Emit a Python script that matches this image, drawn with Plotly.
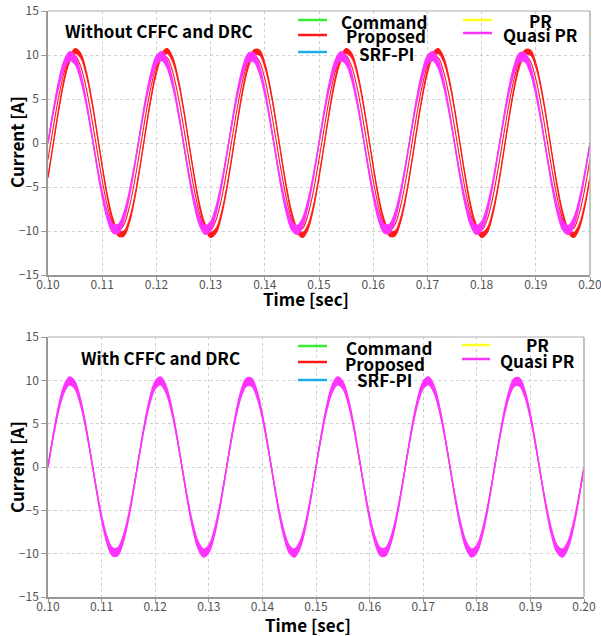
import plotly.graph_objects as go

# ---------------- data ----------------
TIME = [0.100, 0.101, 0.102, 0.103, 0.104, 0.105, 0.106, 0.107, 0.108, 0.109,
        0.110, 0.111, 0.112, 0.113, 0.114, 0.115, 0.116, 0.117, 0.118, 0.119,
        0.120, 0.121, 0.122, 0.123, 0.124, 0.125, 0.126, 0.127, 0.128, 0.129,
        0.130, 0.131, 0.132, 0.133, 0.134, 0.135, 0.136, 0.137, 0.138, 0.139,
        0.140, 0.141, 0.142, 0.143, 0.144, 0.145, 0.146, 0.147, 0.148, 0.149,
        0.150, 0.151, 0.152, 0.153, 0.154, 0.155, 0.156, 0.157, 0.158, 0.159,
        0.160, 0.161, 0.162, 0.163, 0.164, 0.165, 0.166, 0.167, 0.168, 0.169,
        0.170, 0.171, 0.172, 0.173, 0.174, 0.175, 0.176, 0.177, 0.178, 0.179,
        0.180, 0.181, 0.182, 0.183, 0.184, 0.185, 0.186, 0.187, 0.188, 0.189,
        0.190, 0.191, 0.192, 0.193, 0.194, 0.195, 0.196, 0.197, 0.198, 0.199,
        0.200]

# Command / SRF-PI / PR (overlapping, under the Quasi PR band)
COMMAND = [0.00, 3.68, 6.85, 9.05, 9.98, 9.51, 7.71, 4.82, 1.25, -2.49, -5.88, -8.44, -9.82, -9.82, -8.44, -5.88, -2.49, 1.25, 4.82, 7.71, 9.51, 9.98, 9.05, 6.85, 3.68, 0.00,
           -3.68, -6.85, -9.05, -9.98, -9.51, -7.71, -4.82, -1.25, 2.49, 5.88, 8.44, 9.82, 9.82, 8.44, 5.88, 2.49, -1.25, -4.82, -7.71, -9.51, -9.98, -9.05, -6.85, -3.68, 0.00,
           3.68, 6.85, 9.05, 9.98, 9.51, 7.71, 4.82, 1.25, -2.49, -5.88, -8.44, -9.82, -9.82, -8.44, -5.88, -2.49, 1.25, 4.82, 7.71, 9.51, 9.98, 9.05, 6.85, 3.68, 0.00,
           -3.68, -6.85, -9.05, -9.98, -9.51, -7.71, -4.82, -1.25, 2.49, 5.88, 8.44, 9.82, 9.82, 8.44, 5.88, 2.49, -1.25, -4.82, -7.71, -9.51, -9.98, -9.05, -6.85, -3.68, 0.00]
SRF_PI = COMMAND
PR = COMMAND

# Quasi PR band (outer / inner envelope) - top panel
QPR_OUT = [0.00, 3.83, 7.12, 9.41, 10.38, 9.89, 8.01, 5.01, 1.30, -2.59, -6.11, -8.78, -10.22, -10.22, -8.78, -6.11, -2.59, 1.30, 5.01, 8.01, 9.89, 10.38, 9.41, 7.12, 3.83, 0.00,
           -3.83, -7.12, -9.41, -10.38, -9.89, -8.01, -5.01, -1.30, 2.59, 6.11, 8.78, 10.22, 10.22, 8.78, 6.11, 2.59, -1.30, -5.01, -8.01, -9.89, -10.38, -9.41, -7.12, -3.83, 0.00,
           3.83, 7.12, 9.41, 10.38, 9.89, 8.01, 5.01, 1.30, -2.59, -6.11, -8.78, -10.22, -10.22, -8.78, -6.11, -2.59, 1.30, 5.01, 8.01, 9.89, 10.38, 9.41, 7.12, 3.83, 0.00,
           -3.83, -7.12, -9.41, -10.38, -9.89, -8.01, -5.01, -1.30, 2.59, 6.11, 8.78, 10.22, 10.22, 8.78, 6.11, 2.59, -1.30, -5.01, -8.01, -9.89, -10.38, -9.41, -7.12, -3.83, 0.00]
QPR_IN = [0.00, 3.46, 6.43, 8.51, 9.38, 8.94, 7.24, 4.53, 1.18, -2.34, -5.53, -7.94, -9.23, -9.23, -7.94, -5.53, -2.34, 1.18, 4.53, 7.24, 8.94, 9.38, 8.51, 6.43, 3.46, 0.00,
          -3.46, -6.43, -8.51, -9.38, -8.94, -7.24, -4.53, -1.18, 2.34, 5.53, 7.94, 9.23, 9.23, 7.94, 5.53, 2.34, -1.18, -4.53, -7.24, -8.94, -9.38, -8.51, -6.43, -3.46, 0.00,
          3.46, 6.43, 8.51, 9.38, 8.94, 7.24, 4.53, 1.18, -2.34, -5.53, -7.94, -9.23, -9.23, -7.94, -5.53, -2.34, 1.18, 4.53, 7.24, 8.94, 9.38, 8.51, 6.43, 3.46, 0.00,
          -3.46, -6.43, -8.51, -9.38, -8.94, -7.24, -4.53, -1.18, 2.34, 5.53, 7.94, 9.23, 9.23, 7.94, 5.53, 2.34, -1.18, -4.53, -7.24, -8.94, -9.38, -8.51, -6.43, -3.46, 0.00]

# Proposed (lagging) - top panel: outer strand, cap edge, thin inner strand
PROP_OUT = [-3.96,
            0.00, 3.96, 7.36, 9.73, 10.73, 10.22, 8.28, 5.18, 1.35, -2.67, -6.32, -9.08, -10.56, -10.56, -9.08, -6.32, -2.67, 1.35, 5.18, 8.28, 10.22, 10.73, 9.73, 7.36, 3.96, 0.00,
            -3.96, -7.36, -9.73, -10.73, -10.22, -8.28, -5.18, -1.35, 2.67, 6.32, 9.08, 10.56, 10.56, 9.08, 6.32, 2.67, -1.35, -5.18, -8.28, -10.22, -10.73, -9.73, -7.36, -3.96, 0.00,
            3.96, 7.36, 9.73, 10.73, 10.22, 8.28, 5.18, 1.35, -2.67, -6.32, -9.08, -10.56, -10.56, -9.08, -6.32, -2.67, 1.35, 5.18, 8.28, 10.22, 10.73, 9.73, 7.36, 3.96, 0.00,
            -3.96, -7.36, -9.73, -10.73, -10.22, -8.28, -5.18, -1.35, 2.67, 6.32, 9.08, 10.56, 10.56, 9.08, 6.32, 2.67, -1.35, -5.18, -8.28, -10.22, -10.73, -9.73, -7.36, -3.96]
PROP_CAP = [-3.74,
            0.00, 3.74, 6.95, 9.18, 10.13, 9.65, 7.82, 4.89, 1.27, -2.52, -5.97, -8.57, -9.97, -9.97, -8.57, -5.97, -2.52, 1.27, 4.89, 7.82, 9.65, 10.13, 9.18, 6.95, 3.74, 0.00,
            -3.74, -6.95, -9.18, -10.13, -9.65, -7.82, -4.89, -1.27, 2.52, 5.97, 8.57, 9.97, 9.97, 8.57, 5.97, 2.52, -1.27, -4.89, -7.82, -9.65, -10.13, -9.18, -6.95, -3.74, 0.00,
            3.74, 6.95, 9.18, 10.13, 9.65, 7.82, 4.89, 1.27, -2.52, -5.97, -8.57, -9.97, -9.97, -8.57, -5.97, -2.52, 1.27, 4.89, 7.82, 9.65, 10.13, 9.18, 6.95, 3.74, 0.00,
            -3.74, -6.95, -9.18, -10.13, -9.65, -7.82, -4.89, -1.27, 2.52, 5.97, 8.57, 9.97, 9.97, 8.57, 5.97, 2.52, -1.27, -4.89, -7.82, -9.65, -10.13, -9.18, -6.95, -3.74]
PROP_THIN = [-1.87, 1.87, 5.36, 8.09, 9.69, 9.92, 8.76, 6.37, 3.09, -0.63, -4.26, -7.29, -9.30, -10.00, -9.30, -7.29, -4.26, -0.63, 3.09, 6.37, 8.76, 9.92, 9.69, 8.09, 5.36, 1.87,
             -1.87, -5.36, -8.09, -9.69, -9.92, -8.76, -6.37, -3.09, 0.63, 4.26, 7.29, 9.30, 10.00, 9.30, 7.29, 4.26, 0.63, -3.09, -6.37, -8.76, -9.92, -9.69, -8.09, -5.36, -1.87,
             1.87, 5.36, 8.09, 9.69, 9.92, 8.76, 6.37, 3.09, -0.63, -4.26, -7.29, -9.30, -10.00, -9.30, -7.29, -4.26, -0.63, 3.09, 6.37, 8.76, 9.92, 9.69, 8.09, 5.36, 1.87,
             -1.87, -5.36, -8.09, -9.69, -9.92, -8.76, -6.37, -3.09, 0.63, 4.26, 7.29, 9.30, 10.00, 9.30, 7.29, 4.26, 0.63, -3.09, -6.37, -8.76, -9.92, -9.69, -8.09, -5.36, -1.87]

# bottom panel (with CFFC and DRC): all controllers overlap
PROP2 = COMMAND
QPR2_OUT = QPR_OUT
QPR2_IN = [0.00, 3.50, 6.50, 8.60, 9.48, 9.04, 7.32, 4.58, 1.19, -2.36, -5.58, -8.02, -9.33, -9.33, -8.02, -5.58, -2.36, 1.19, 4.58, 7.32, 9.04, 9.48, 8.60, 6.50, 3.50, 0.00,
           -3.50, -6.50, -8.60, -9.48, -9.04, -7.32, -4.58, -1.19, 2.36, 5.58, 8.02, 9.33, 9.33, 8.02, 5.58, 2.36, -1.19, -4.58, -7.32, -9.04, -9.48, -8.60, -6.50, -3.50, 0.00,
           3.50, 6.50, 8.60, 9.48, 9.04, 7.32, 4.58, 1.19, -2.36, -5.58, -8.02, -9.33, -9.33, -8.02, -5.58, -2.36, 1.19, 4.58, 7.32, 9.04, 9.48, 8.60, 6.50, 3.50, 0.00,
           -3.50, -6.50, -8.60, -9.48, -9.04, -7.32, -4.58, -1.19, 2.36, 5.58, 8.02, 9.33, 9.33, 8.02, 5.58, 2.36, -1.19, -4.58, -7.32, -9.04, -9.48, -8.60, -6.50, -3.50, 0.00]

X_TICKS = [0.10, 0.11, 0.12, 0.13, 0.14, 0.15, 0.16, 0.17, 0.18, 0.19, 0.20]
X_TICK_TEXT = ["0.10", "0.11", "0.12", "0.13", "0.14", "0.15", "0.16", "0.17", "0.18", "0.19", "0.20"]
Y_TICKS = [-15, -10, -5, 0, 5, 10, 15]
Y_TICK_TEXT = ["\u221215", "\u221210", "\u22125", "0", "5", "10", "15"]

LEGEND_NAMES = ["Command", "Proposed", "SRF-PI", "PR", "Quasi PR"]
TITLES = ["Without CFFC and DRC", "With CFFC and DRC"]
X_TITLE = "Time [sec]"
Y_TITLE = "Current [A]"

# ---------------- styles ----------------
C_CMD = "#33ee33"
C_PROP = "#ff1a1a"
C_SRF = "#19aee6"
C_PR = "#ffff22"
C_QPR = "#ff33ff"
FONT = "Noto Sans CJK KR"

W, H = 601, 636
ML, MR, MT, MB = 48, 11, 11, 39
PW = W - ML - MR
PH = H - MT - MB


def px(x):
    return (x - ML) / PW


def py(y):
    return (H - MB - y) / PH


fig = go.Figure()


def line(x, y, color, width, xa, ya, name, fill=None):
    fig.add_trace(go.Scatter(
        x=x, y=y, mode="lines", name=name, xaxis=xa, yaxis=ya,
        line=dict(color=color, width=width, shape="spline", smoothing=1.0),
        fill=fill, fillcolor=color if fill else None,
        showlegend=False, hoverinfo="skip"))


# top panel
line(TIME, COMMAND, C_CMD, 1, "x", "y", "Command")
line(TIME, SRF_PI, C_SRF, 1, "x", "y", "SRF-PI")
line(TIME, PR, C_PR, 1, "x", "y", "PR")
line(TIME, PROP_THIN, C_PROP, 1.1, "x", "y", "Proposed")
line(TIME, PROP_CAP, C_PROP, 0.8, "x", "y", "Proposed")
line(TIME, PROP_OUT, C_PROP, 1.3, "x", "y", "Proposed", fill="tonexty")
line(TIME, QPR_IN, C_QPR, 1.4, "x", "y", "Quasi PR")
line(TIME, QPR_OUT, C_QPR, 1.4, "x", "y", "Quasi PR", fill="tonexty")

# bottom panel
line(TIME, COMMAND, C_CMD, 1, "x2", "y2", "Command")
line(TIME, PROP2, C_PROP, 1, "x2", "y2", "Proposed")
line(TIME, SRF_PI, C_SRF, 1, "x2", "y2", "SRF-PI")
line(TIME, PR, C_PR, 1, "x2", "y2", "PR")
line(TIME, QPR2_IN, C_QPR, 1.4, "x2", "y2", "Quasi PR")
line(TIME, QPR2_OUT, C_QPR, 1.4, "x2", "y2", "Quasi PR", fill="tonexty")

top_dom = [py(275), 1.0]
bot_dom = [0.0, py(337)]

xcommon = dict(range=[0.1, 0.2], tickvals=X_TICKS, ticktext=X_TICK_TEXT, automargin=False,
               ticks="outside", ticklen=3, tickcolor="#999", tickwidth=1,
               ticklabeloverflow="allow", ticklabelstandoff=-5,
               showline=True, linecolor="#999", linewidth=1.5,
               showgrid=True, gridcolor="#cfcfcf", griddash="dot", gridwidth=1,
               zeroline=False, tickfont=dict(family=FONT, size=12, color="#555"))
ycommon = dict(range=[-15, 15], tickvals=Y_TICKS, ticktext=Y_TICK_TEXT, automargin=False,
               ticks="outside", ticklen=5, tickcolor="#999", tickwidth=1,
               ticklabeloverflow="allow",
               showline=True, linecolor="#999", linewidth=1.5,
               showgrid=True, gridcolor="#cfcfcf", griddash="dot", gridwidth=1,
               zeroline=False, tickfont=dict(family=FONT, size=12, color="#555"))

fig.update_layout(
    width=W, height=H, autosize=False,
    margin=dict(l=ML, r=MR, t=MT, b=MB, autoexpand=False),
    paper_bgcolor="white", plot_bgcolor="white",
    showlegend=False,
    xaxis=dict(domain=[0, 1], anchor="y", **xcommon),
    yaxis=dict(domain=top_dom, anchor="x", **ycommon),
    xaxis2=dict(domain=[0, px(584)], anchor="y2", **xcommon),
    yaxis2=dict(domain=bot_dom, anchor="x2", **ycommon),
)

shapes = []
annotations = []

# frame top/right edges
for xr, yr in (("x domain", "y domain"), ("x2 domain", "y2 domain")):
    shapes.append(dict(type="line", xref=xr, yref=yr, x0=0, x1=1, y0=1, y1=1,
                       line=dict(color="#c8c8c8", width=1.5), layer="above"))
    shapes.append(dict(type="line", xref=xr, yref=yr, x0=1, x1=1, y0=0, y1=1,
                       line=dict(color="#b0b0b0", width=1.5), layer="above"))


def text(x, y, s, size=17, color="black", bold=True, textangle=0):
    annotations.append(dict(xref="paper", yref="paper", x=px(x), y=py(y),
                            text=("<b>%s</b>" % s) if bold else s, showarrow=False,
                            xanchor="center", yanchor="middle", textangle=textangle,
                            font=dict(family=FONT, size=size, color=color)))


def seg(x0, x1, y, color):
    shapes.append(dict(type="line", xref="paper", yref="paper",
                       x0=px(x0), x1=px(x1), y0=py(y), y1=py(y),
                       line=dict(color=color, width=2.5), layer="above"))


LEG_COLORS = [C_CMD, C_PROP, C_SRF, C_PR, C_QPR]

top_leg = [(298, 327, 20, 384, 21), (298, 327, 35, 386, 36), (298, 327, 52, 386, 54),
           (463, 492, 20, 540, 20), (463, 492, 33, 540, 34)]
bot_leg = [(298, 327, 346, 389, 347), (298, 327, 362, 385, 363), (298, 327, 380, 384, 380),
           (462, 490, 345, 537, 344), (462, 490, 359, 537, 360)]
for legs in (top_leg, bot_leg):
    for (x0, x1, ly, tx, ty), name, col in zip(legs, LEGEND_NAMES, LEG_COLORS):
        seg(x0, x1, ly, col)
        text(tx, ty, name, size=17)

# panel titles
text(159, 31, TITLES[0], size=17)
text(160, 357, TITLES[1], size=17)

# axis titles
text(306, 298, X_TITLE, size=17)
text(308, 624, X_TITLE, size=17)
text(16, 142, Y_TITLE, size=17, textangle=-90)
text(16, 467, Y_TITLE, size=17, textangle=-90)

fig.update_layout(shapes=shapes, annotations=annotations)
fig.write_html("out.html", config={"displayModeBar": False},
               post_script="document.body.style.margin='0';document.body.style.overflow='hidden';")
